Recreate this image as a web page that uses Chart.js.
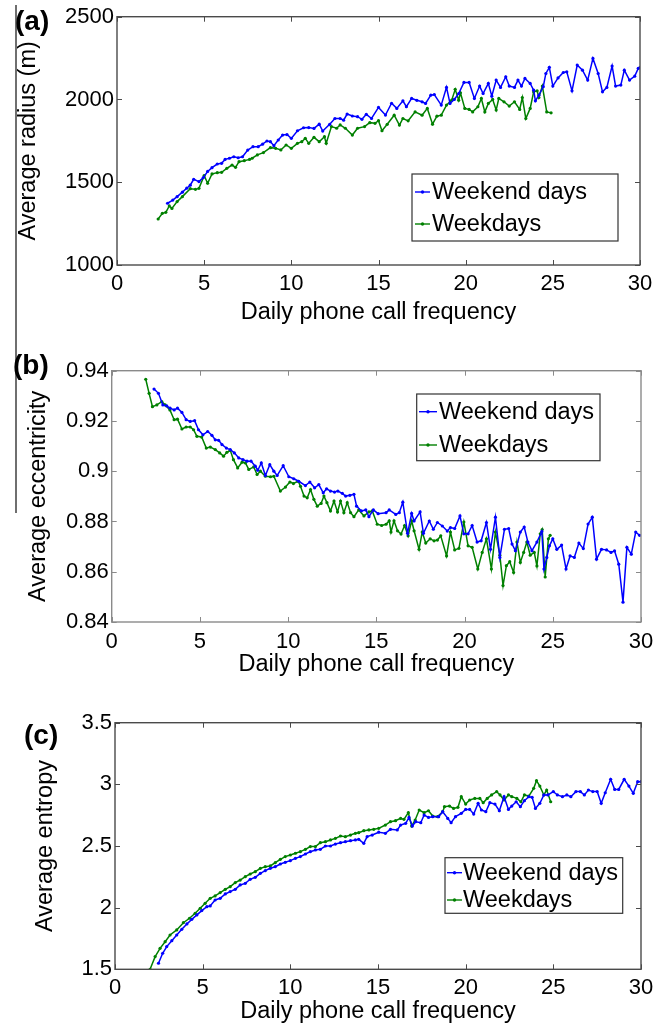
<!DOCTYPE html>
<html>
<head>
<meta charset="utf-8">
<script src="https://cdn.jsdelivr.net/npm/chart.js@4.4.1/dist/chart.umd.min.js"></script>
<style>
  body { margin: 0; background: #fff; }
  #page { position: relative; width: 667px; height: 1027px; overflow: hidden; font-family: "Liberation Sans", Arial, sans-serif; }
  #page canvas { position: absolute; left: 0; }
  .tag { position: absolute; font-weight: bold; font-size: 28px; line-height: 30px; color: #000; }
  #rule { position: absolute; left: 15px; top: 5px; width: 2px; height: 508px; background: #6f6f6f; }
</style>
</head>
<body>
<div id="page">
  <div id="rule"></div>
  <canvas id="chart-a" width="667" height="330" style="top:0px"></canvas>
  <canvas id="chart-b" width="667" height="345" style="top:335px"></canvas>
  <canvas id="chart-c" width="667" height="350" style="top:685px"></canvas>
  <div class="tag" style="left:15px;top:6px">(a)</div>
  <div class="tag" style="left:13px;top:350px">(b)</div>
  <div class="tag" style="left:24px;top:720px">(c)</div>
</div>
<script>
const X_TICKS = [0, 5, 10, 15, 20, 25, 30];
const SERIES_LABELS = ['Weekend days', 'Weekdays'];

// (a) average radius
const A_Y_TICKS = [1000, 1500, 2000, 2500];
const A_Y_LABELS = ['1000', '1500', '2000', '2500'];
const A_WEEKEND_X = [2.9, 3.2, 3.45, 3.75, 4.0, 4.2, 4.4, 4.7, 4.95, 5.2, 5.45, 5.75, 6.0, 6.2, 6.45, 6.7, 6.95, 7.2, 7.5, 7.8,
  8.1, 8.35, 8.6, 8.8, 9.0, 9.25, 9.5, 9.75, 10.0, 10.35, 10.7, 11.0, 11.3, 11.6, 11.8, 12.2, 12.5, 12.8, 13.0, 13.2,
  13.5, 13.8, 14.05, 14.3, 14.6, 15.0, 15.4, 15.75, 16.05, 16.4, 16.6, 16.9, 17.2, 17.5, 17.7, 18.0, 18.2, 18.6, 18.9, 19.1,
  19.35, 19.6, 19.9, 20.2, 20.5, 20.8, 21.0, 21.3, 21.5, 21.75, 22.0, 22.3, 22.5, 22.8, 23.0, 23.2, 23.4, 23.7, 23.9, 24.0,
  24.2, 24.45, 24.6, 24.8, 25.0, 25.3, 25.6, 25.8, 26.1, 26.4, 26.7, 27.0, 27.3, 27.6, 27.85, 28.1, 28.4, 28.6, 28.9, 29.1,
  29.4, 29.7, 29.9, 30.0];
const A_WEEKEND_Y = [1373, 1392, 1413, 1440, 1464, 1482, 1518, 1504, 1528, 1565, 1588, 1610, 1614, 1638, 1645, 1654, 1648, 1654, 1694, 1715,
  1715, 1730, 1749, 1745, 1721, 1755, 1785, 1788, 1765, 1811, 1829, 1830, 1825, 1851, 1809, 1850, 1885, 1885, 1875, 1912,
  1900, 1896, 1880, 1910, 1885, 1952, 1906, 1977, 1946, 1992, 1956, 2006, 1995, 1986, 1976, 2026, 2030, 1966, 2073, 1976,
  2000, 2036, 2103, 2103, 2006, 2081, 2036, 2097, 2020, 2117, 2073, 2137, 2081, 2073, 2117, 2081, 2127, 2097, 2056, 1992,
  2026, 2077, 2157, 2194, 2081, 2130, 2163, 2167, 2052, 2208, 2177, 2117, 2248, 2157, 2046, 2073, 2202, 2081, 2087, 2177,
  2117, 2141, 2188, 2192];
const A_WEEKDAY_X = [2.36, 2.6, 2.8, 3.0, 3.15, 3.45, 3.75, 4.2, 4.5, 4.7, 5.0, 5.2, 5.45, 5.75, 6.0, 6.3, 6.6, 6.8, 7.0, 7.3,
  7.6, 7.75, 8.05, 8.4, 8.8, 9.1, 9.4, 9.7, 10.0, 10.35, 10.6, 10.8, 11.0, 11.3, 11.6, 11.9, 12.0, 12.3, 12.6, 12.8,
  13.1, 13.5, 13.8, 14.2, 14.5, 14.8, 15.0, 15.2, 15.5, 15.9, 16.2, 16.4, 16.7, 17.1, 17.5, 17.8, 18.1, 18.35, 18.6, 18.9,
  19.2, 19.4, 19.6, 19.7, 19.95, 20.2, 20.4, 20.7, 20.9, 21.1, 21.3, 21.55, 21.75, 21.9, 22.2, 22.5, 22.8, 23.1, 23.25, 23.45,
  23.7, 23.9, 24.1, 24.2, 24.4, 24.65, 24.9];
const A_WEEKDAY_Y = [1278, 1312, 1318, 1357, 1342, 1383, 1413, 1461, 1457, 1463, 1540, 1494, 1550, 1558, 1560, 1584, 1604, 1590, 1624, 1630,
  1638, 1645, 1665, 1679, 1709, 1705, 1695, 1725, 1705, 1735, 1745, 1765, 1735, 1771, 1745, 1775, 1735, 1836, 1826, 1846,
  1826, 1785, 1826, 1836, 1860, 1856, 1872, 1811, 1850, 1905, 1845, 1885, 1871, 1925, 1905, 1946, 1851, 1899, 1905, 1966,
  1996, 2061, 1996, 2040, 1946, 1940, 1925, 1956, 2006, 1925, 1976, 2000, 1936, 2006, 1986, 1960, 1986, 1940, 2012, 1885,
  1946, 2046, 2052, 2012, 2081, 1925, 1919];

// (b) average eccentricity
const B_Y_TICKS = [0.84, 0.86, 0.88, 0.9, 0.92, 0.94];
const B_Y_LABELS = ['0.84', '0.86', '0.88', '0.9', '0.92', '0.94'];
const B_WEEKEND_X = [2.4, 2.65, 2.9, 3.12, 3.31, 3.54, 3.73, 3.98, 4.22, 4.45, 4.7, 4.92, 5.17, 5.44, 5.68, 5.87, 6.06, 6.25, 6.5, 6.72,
  6.95, 7.2, 7.44, 7.67, 7.9, 8.14, 8.28, 8.48, 8.71, 8.96, 9.19, 9.38, 9.72, 10.04, 10.32, 10.6, 10.98, 11.23, 11.5, 11.74,
  11.99, 12.18, 12.4, 12.63, 12.82, 13.07, 13.26, 13.5, 13.73, 13.88, 14.15, 14.4, 14.58, 14.83, 15.1, 15.55, 15.73, 16.1, 16.3, 16.5,
  16.77, 17.0, 17.14, 17.48, 17.67, 18.0, 18.23, 18.46, 18.74, 19.02, 19.2, 19.44, 19.74, 19.96, 20.2, 20.43, 20.71, 20.94, 21.24, 21.47,
  21.75, 22.0, 22.26, 22.5, 22.69, 22.88, 23.16, 23.38, 23.59, 23.82, 24.1, 24.38, 24.5, 24.66, 24.81, 25.0, 25.23, 25.5, 25.75, 25.98,
  26.22, 26.48, 26.73, 27.0, 27.24, 27.48, 27.76, 28.05, 28.3, 28.5, 28.74, 28.98, 29.2, 29.45, 29.7, 29.92];
const B_WEEKEND_Y = [0.9327, 0.931, 0.9264, 0.926, 0.9251, 0.9244, 0.9251, 0.9234, 0.9205, 0.9198, 0.9201, 0.9165, 0.9145, 0.9158, 0.9143, 0.9125, 0.9123, 0.9106, 0.9092, 0.9086,
  0.9073, 0.9053, 0.9046, 0.904, 0.904, 0.902, 0.9004, 0.9033, 0.8983, 0.9026, 0.9, 0.8983, 0.9022, 0.8978, 0.897, 0.896, 0.8943, 0.8957, 0.8934, 0.8947,
  0.8914, 0.893, 0.8921, 0.8917, 0.8921, 0.8912, 0.8901, 0.8904, 0.8908, 0.8861, 0.8842, 0.8846, 0.8819, 0.8846, 0.8831, 0.8835, 0.8846, 0.8828, 0.8835, 0.8877,
  0.8753, 0.8832, 0.8802, 0.8838, 0.8753, 0.8802, 0.8769, 0.8796, 0.8782, 0.8762, 0.8776, 0.8772, 0.8822, 0.8751, 0.8751, 0.8784, 0.8718, 0.8723, 0.8796, 0.8689,
  0.8817, 0.8657, 0.8769, 0.8772, 0.871, 0.8684, 0.8758, 0.8778, 0.8718, 0.8684, 0.8718, 0.876, 0.8611, 0.8657, 0.8703, 0.8731, 0.8689, 0.8706, 0.8611, 0.8663,
  0.8657, 0.8714, 0.8692, 0.879, 0.8817, 0.865, 0.8689, 0.8687, 0.8677, 0.8683, 0.863, 0.8479, 0.8697, 0.867, 0.8758, 0.8745];
const B_WEEKDAY_X = [1.93, 2.12, 2.31, 2.56, 2.84, 3.03, 3.3, 3.54, 3.73, 3.98, 4.22, 4.45, 4.64, 4.83, 5.1, 5.36, 5.59, 5.87, 6.12, 6.34,
  6.53, 6.72, 6.9, 7.14, 7.39, 7.58, 7.77, 8.05, 8.24, 8.43, 8.71, 9.0, 9.19, 9.56, 9.85, 10.1, 10.3, 10.57, 10.7, 10.9,
  11.08, 11.27, 11.46, 11.65, 11.87, 12.03, 12.2, 12.4, 12.6, 12.8, 12.97, 13.16, 13.35, 13.54, 13.73, 14.0, 14.3, 14.58, 14.77, 15.05,
  15.3, 15.55, 15.73, 15.83, 16.0, 16.2, 16.4, 16.6, 16.8, 17.0, 17.14, 17.42, 17.6, 17.8, 18.05, 18.27, 18.46, 18.65, 18.98, 19.2,
  19.44, 19.68, 19.96, 20.2, 20.43, 20.75, 21.0, 21.24, 21.52, 21.75, 22.0, 22.18, 22.37, 22.56, 22.78, 22.97, 23.16, 23.35, 23.53, 23.72,
  23.95, 24.1, 24.29, 24.4, 24.57, 24.75, 24.85];
const B_WEEKDAY_Y = [0.9366, 0.931, 0.9257, 0.9264, 0.9277, 0.9264, 0.9244, 0.9205, 0.9207, 0.9168, 0.9176, 0.9176, 0.9165, 0.9139, 0.9136, 0.9092, 0.9096, 0.9086, 0.9073, 0.906,
  0.9075, 0.9083, 0.9046, 0.9013, 0.9036, 0.9033, 0.9007, 0.9017, 0.8987, 0.9, 0.898, 0.8978, 0.898, 0.8921, 0.8937, 0.8957, 0.8951, 0.896, 0.894, 0.8901,
  0.8894, 0.8927, 0.8888, 0.8861, 0.8872, 0.8901, 0.8875, 0.8842, 0.8881, 0.8838, 0.8881, 0.8835, 0.8875, 0.8835, 0.8819, 0.8846, 0.8822, 0.8838, 0.8842, 0.8789,
  0.8784, 0.8789, 0.8803, 0.8758, 0.8803, 0.8763, 0.875, 0.8784, 0.8743, 0.8803, 0.8763, 0.8689, 0.8758, 0.8714, 0.8731, 0.8723, 0.8726, 0.8743, 0.8663, 0.8758,
  0.8687, 0.8693, 0.8798, 0.8703, 0.8697, 0.8611, 0.8677, 0.8731, 0.8611, 0.8758, 0.8666, 0.8545, 0.8624, 0.864, 0.8597, 0.8718, 0.8637, 0.8677, 0.8718, 0.8666,
  0.8677, 0.8623, 0.8751, 0.8768, 0.8579, 0.8731, 0.8745];

// (c) average entropy
const C_Y_TICKS = [1.5, 2, 2.5, 3, 3.5];
const C_Y_LABELS = ['1.5', '2', '2.5', '3', '3.5'];
const C_WEEKEND_X = [2.48, 2.72, 2.95, 3.24, 3.52, 3.81, 4.1, 4.38, 4.67, 4.95, 5.24, 5.43, 5.71, 6.0, 6.29, 6.57, 6.86, 7.14, 7.43, 7.71,
  8.0, 8.29, 8.57, 8.86, 9.14, 9.43, 9.71, 10.0, 10.29, 10.57, 10.86, 11.14, 11.43, 11.71, 12.0, 12.29, 12.57, 12.86, 13.14, 13.43,
  13.71, 13.9, 14.19, 14.38, 14.67, 15.04, 15.42, 15.71, 16.1, 16.29, 16.58, 16.77, 16.96, 17.15, 17.44, 17.63, 17.88, 18.12, 18.46, 18.69,
  18.98, 19.17, 19.42, 19.75, 20.0, 20.23, 20.46, 20.71, 20.9, 21.15, 21.38, 21.67, 21.92, 22.19, 22.44, 22.63, 22.88, 23.12, 23.35, 23.6,
  23.79, 23.98, 24.23, 24.46, 24.69, 25.0, 25.23, 25.52, 25.77, 26.0, 26.29, 26.54, 26.77, 27.0, 27.25, 27.5, 27.73, 27.96, 28.27, 28.5,
  28.73, 29.04, 29.31, 29.56, 29.81, 30.0];
const C_WEEKEND_Y = [1.549, 1.63, 1.684, 1.732, 1.778, 1.824, 1.868, 1.905, 1.941, 1.976, 2.008, 2.014, 2.062, 2.076, 2.111, 2.13, 2.149, 2.184, 2.197, 2.23,
  2.246, 2.278, 2.3, 2.319, 2.332, 2.354, 2.368, 2.381, 2.4, 2.414, 2.435, 2.454, 2.468, 2.473, 2.5, 2.5, 2.516, 2.527, 2.535, 2.543,
  2.549, 2.554, 2.522, 2.576, 2.589, 2.612, 2.603, 2.635, 2.63, 2.67, 2.684, 2.732, 2.662, 2.697, 2.689, 2.751, 2.732, 2.738, 2.738, 2.778,
  2.724, 2.689, 2.738, 2.765, 2.797, 2.797, 2.759, 2.846, 2.792, 2.778, 2.851, 2.84, 2.786, 2.9, 2.797, 2.824, 2.859, 2.819, 2.868, 2.9,
  2.895, 2.805, 2.846, 2.914, 2.914, 2.941, 2.914, 2.9, 2.914, 2.9, 2.941, 2.941, 2.914, 2.954, 2.941, 2.941, 2.846, 2.932, 3.041, 2.959,
  2.959, 3.041, 2.986, 2.927, 3.022, 3.022];
const C_WEEKDAY_X = [2.0, 2.29, 2.57, 2.86, 3.14, 3.52, 3.9, 4.25, 4.57, 4.86, 5.14, 5.43, 5.71, 6.0, 6.29, 6.57, 6.86, 7.14, 7.43, 7.71,
  8.0, 8.29, 8.57, 8.86, 9.14, 9.43, 9.71, 10.0, 10.29, 10.57, 10.86, 11.14, 11.43, 11.71, 12.0, 12.29, 12.57, 12.86, 13.14, 13.43,
  13.71, 13.9, 14.19, 14.48, 14.76, 15.04, 15.42, 15.71, 16.0, 16.29, 16.48, 16.73, 16.92, 17.12, 17.35, 17.63, 17.88, 18.12, 18.4, 18.69,
  18.79, 19.08, 19.31, 19.56, 19.75, 20.0, 20.23, 20.52, 20.81, 21.0, 21.23, 21.48, 21.77, 21.96, 22.19, 22.44, 22.63, 22.92, 23.15, 23.35,
  23.6, 23.88, 24.04, 24.23, 24.46, 24.62, 24.85];
const C_WEEKDAY_Y = [1.5, 1.603, 1.67, 1.724, 1.778, 1.819, 1.878, 1.914, 1.954, 1.995, 2.035, 2.076, 2.095, 2.122, 2.149, 2.17, 2.203, 2.224, 2.251, 2.273,
  2.292, 2.319, 2.332, 2.338, 2.365, 2.392, 2.414, 2.427, 2.441, 2.454, 2.473, 2.495, 2.495, 2.527, 2.535, 2.549, 2.562, 2.581, 2.576, 2.589,
  2.603, 2.608, 2.624, 2.63, 2.635, 2.643, 2.67, 2.697, 2.705, 2.724, 2.716, 2.77, 2.662, 2.711, 2.792, 2.77, 2.786, 2.743, 2.738, 2.778,
  2.819, 2.824, 2.805, 2.814, 2.9, 2.84, 2.873, 2.886, 2.886, 2.851, 2.886, 2.914, 2.941, 2.914, 2.873, 2.914, 2.9, 2.886, 2.859, 2.914,
  2.905, 2.968, 3.03, 2.986, 2.914, 2.954, 2.859];

const FONT = '"Liberation Sans", Arial, sans-serif';
const BLUE = '#0000ff';
const GREEN = '#008000';

function pairs(xs, ys) {
  return xs.map((x, i) => ({ x, y: ys[i] }));
}

// box, inward tick marks on all four sides
const matlabFrame = {
  id: 'matlabFrame',
  afterDatasetsDraw(chart, args, opts) {
    const { ctx, chartArea: a, scales } = chart;
    ctx.save();
    ctx.strokeStyle = opts.color;
    ctx.lineWidth = 1;
    ctx.beginPath();
    scales.x.ticks.forEach((t) => {
      const px = Math.round(scales.x.getPixelForValue(t.value)) + 0.5;
      ctx.moveTo(px, a.bottom); ctx.lineTo(px, a.bottom - 5);
      ctx.moveTo(px, a.top); ctx.lineTo(px, a.top + 5);
    });
    scales.y.ticks.forEach((t) => {
      const py = Math.round(scales.y.getPixelForValue(t.value)) + 0.5;
      ctx.moveTo(a.left, py); ctx.lineTo(a.left + 5, py);
      ctx.moveTo(a.right, py); ctx.lineTo(a.right - 5, py);
    });
    ctx.stroke();
    ctx.lineWidth = 1.4;
    ctx.strokeRect(a.left, a.top, a.right - a.left, a.bottom - a.top);
    ctx.restore();
  },
};

// matlab-style legend box
const boxLegend = {
  id: 'boxLegend',
  afterDraw(chart, args, o) {
    const ctx = chart.ctx;
    ctx.save();
    ctx.fillStyle = '#fff';
    ctx.fillRect(o.left, o.top, o.width, o.height);
    ctx.strokeStyle = '#333';
    ctx.lineWidth = 1.2;
    ctx.strokeRect(o.left, o.top, o.width, o.height);
    chart.data.datasets.forEach((ds, i) => {
      const yy = o.rows[i];
      ctx.strokeStyle = ds.borderColor;
      ctx.lineWidth = 1.4;
      ctx.beginPath();
      ctx.moveTo(o.lineX0, yy);
      ctx.lineTo(o.lineX1, yy);
      ctx.stroke();
      ctx.fillStyle = ds.borderColor;
      ctx.beginPath();
      ctx.arc((o.lineX0 + o.lineX1) / 2, yy, 1.7, 0, Math.PI * 2);
      ctx.fill();
      ctx.fillStyle = '#000';
      ctx.font = '23.5px ' + FONT;
      ctx.textBaseline = 'middle';
      ctx.fillText(ds.label, o.textX, yy + 1);
    });
    ctx.restore();
  },
};

function makePanel(p) {
  const ds = (label, data, color) => ({
    label, data, borderColor: color, backgroundColor: color,
    borderWidth: 1.5, pointRadius: 1.6, pointHoverRadius: 1.6, pointBorderWidth: 0, tension: 0,
  });
  new Chart(document.getElementById(p.id), {
    type: 'line',
    data: {
      datasets: [
        ds(SERIES_LABELS[0], pairs(p.weekendX, p.weekendY), BLUE),
        ds(SERIES_LABELS[1], pairs(p.weekdayX, p.weekdayY), GREEN),
      ],
    },
    options: {
      responsive: false,
      animation: false,
      devicePixelRatio: 1,
      layout: { padding: { left: 0, top: p.area.top, right: 667 - p.area.right, bottom: 0 } },
      plugins: {
        legend: { display: false },
        tooltip: { enabled: false },
        matlabFrame: { color: p.frame },
        boxLegend: p.legend,
      },
      scales: {
        x: {
          type: 'linear', min: 0, max: 30,
          afterBuildTicks: (s) => { s.ticks = X_TICKS.map((v) => ({ value: v })); },
          afterFit: (s) => { s.height = p.xAxisHeight; },
          grid: { display: false, drawTicks: false },
          border: { display: false },
          ticks: { color: '#000', padding: p.xTickPad, font: { size: 22, family: FONT }, maxRotation: 0 },
          title: { display: true, text: 'Daily phone call frequency', color: '#000',
            font: { size: 23.5, family: FONT }, padding: { top: 0, bottom: p.xTitlePad } },
        },
        y: {
          type: 'linear', min: p.yTicks[0], max: p.yTicks[p.yTicks.length - 1],
          afterBuildTicks: (s) => { s.ticks = p.yTicks.map((v) => ({ value: v })); },
          afterFit: (s) => { s.width = p.area.left; },
          grid: { display: false, drawTicks: false },
          border: { display: false },
          ticks: { color: '#000', padding: 3, font: { size: 22, family: FONT },
            callback: (v, i) => p.yLabels[i] },
          title: { display: true, text: p.yTitle, color: '#000',
            font: { size: 23.5, family: FONT }, padding: { top: p.yTitlePad, bottom: 0 } },
        },
      },
    },
    plugins: [matlabFrame, boxLegend],
  });
}

makePanel({
  id: 'chart-a', yTitle: 'Average radius (m)', yTicks: A_Y_TICKS, yLabels: A_Y_LABELS,
  weekendX: A_WEEKEND_X, weekendY: A_WEEKEND_Y, weekdayX: A_WEEKDAY_X, weekdayY: A_WEEKDAY_Y,
  area: { left: 117, right: 640, top: 16.7 }, xAxisHeight: 65, xTickPad: 6, xTitlePad: 3, yTitlePad: 14, frame: '#4a4a4a',
  legend: { left: 412, top: 174, width: 206, height: 67, rows: [192, 224], lineX0: 415, lineX1: 430, textX: 432 },
});
makePanel({
  id: 'chart-b', yTitle: 'Average eccentricity', yTicks: B_Y_TICKS, yLabels: B_Y_LABELS,
  weekendX: B_WEEKEND_X, weekendY: B_WEEKEND_Y, weekdayX: B_WEEKDAY_X, weekdayY: B_WEEKDAY_Y,
  area: { left: 111.7, right: 641, top: 35.7 }, xAxisHeight: 58, xTickPad: 7, xTitlePad: 1, yTitlePad: 24, frame: '#8a8a8a',
  legend: { left: 416.7, top: 59, width: 183.3, height: 66.7, rows: [76.7, 110], lineX0: 419, lineX1: 437, textX: 439 },
});
makePanel({
  id: 'chart-c', yTitle: 'Average entropy', yTicks: C_Y_TICKS, yLabels: C_Y_LABELS,
  weekendX: C_WEEKEND_X, weekendY: C_WEEKEND_Y, weekdayX: C_WEEKDAY_X, weekdayY: C_WEEKDAY_Y,
  area: { left: 115, right: 641, top: 37.7 }, xAxisHeight: 65.7, xTickPad: 5, xTitlePad: 9, yTitlePad: 31, frame: '#4a4a4a',
  legend: { left: 445, top: 172.7, width: 177.7, height: 55.6, rows: [187.7, 215], lineX0: 447, lineX1: 462, textX: 463 },
});
</script>
</body>
</html>
